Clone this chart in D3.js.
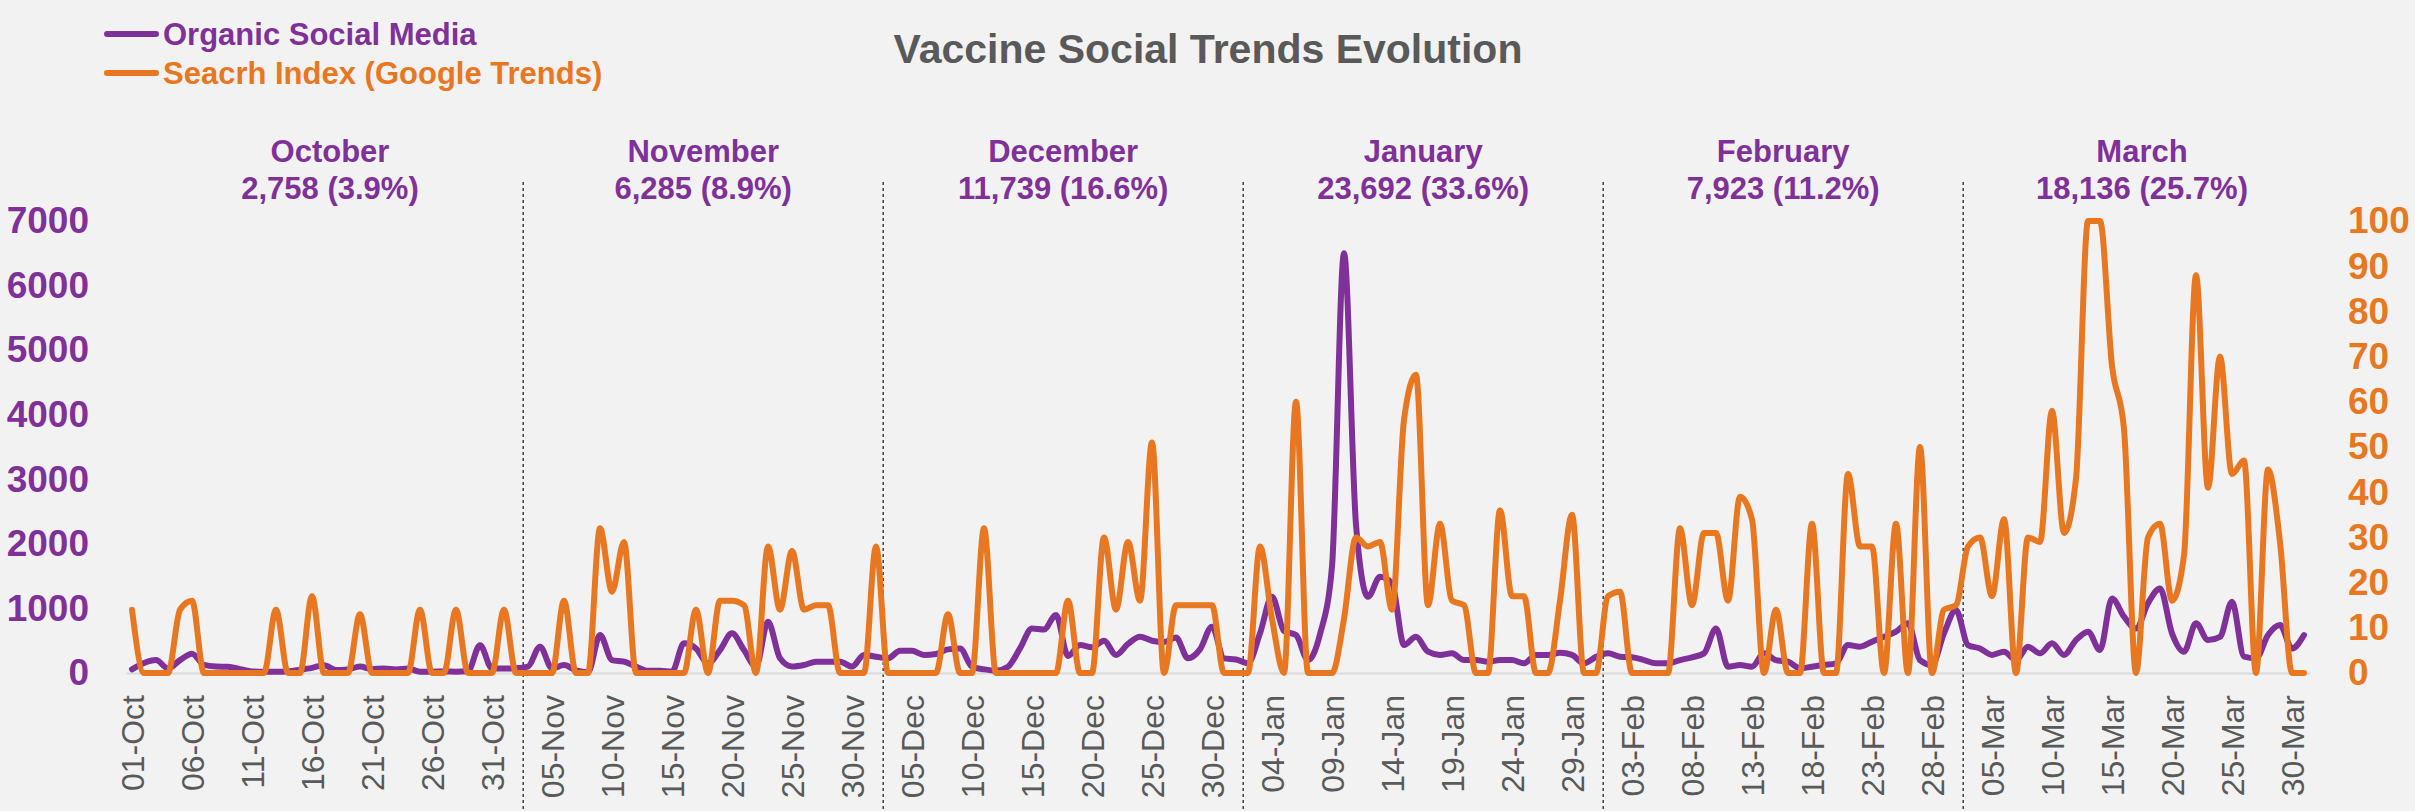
<!DOCTYPE html>
<meta charset="utf-8">
<style>
body { margin: 0; background: #f2f2f2; }
svg { display: block; background: #f2f2f2; font-family: "Liberation Sans", Arial, sans-serif; }
.title { font-size: 41px; font-weight: bold; fill: #595959; }
.legend text { font-size: 31px; font-weight: bold; }
.month text { font-size: 31px; font-weight: bold; fill: #7f3199; }
.yleft text { font-size: 37px; font-weight: bold; fill: #7f3199; }
.yright text { font-size: 37px; font-weight: bold; fill: #e87722; }
.xaxis text { font-size: 32px; fill: #595959; }
.divider { stroke: #404040; stroke-width: 1.5; stroke-dasharray: 3,3; }
</style>
<svg width="2415" height="811"></svg>
<script src="https://d3js.org/d3.v7.min.js"></script>
<script>

// daily values, 01-Oct to 31-Mar
var socialMedia = [
  // Oct
  57,155,200,70,200,300,125,100,95,60, 25,20,20,25,50,80,120,45,55,100, 60,70,55,70,20,20,25,20,30,430, 70,
  // Nov
  70,75,100,408,72,124,40,10,588,200, 175,100,36,36,20,460,380,150,355,614, 355,100,795,227,100,124,175,175,175,100,
  // Dec
  280,253,227,345,345,280,295,366,380,98, 57,36,98,380,690,675,900,263,433,397, 500,280,450,562,500,480,550,227,366,717, 227,
  // Jan
  210,150,614,1180,650,588,200,600,1650,6500, 2300,1180,1490,1390,433,560,330,280,305,200, 200,175,200,200,150,280,280,315,280,150, 250,
  // Feb
  304,253,243,200,150,150,200,243,304,690, 98,124,98,304,200,175,72,98,124,150, 433,408,485,562,640,770,200,124,
  // Mar
  614,975,433,380,280,330,200,408,305,460, 280,510,640,355,1155,872,690,1080,1310,614, 330,770,510,560,1105,253,227,588,743,380, 588
];

var searchIndex = [
  // Oct
  14,0,0,0,14,16,0,0,0,0, 0,0,14,0,0,17,0,0,0,13, 0,0,0,0,14,0,0,14,0,0, 0,
  // Nov
  14,0,0,0,0,16,0,0,32,18, 29,0,0,0,0,0,14,0,16,16, 15,0,28,14,27,14,15,15,0,0,
  // Dec
  0,28,0,0,0,0,0,13,0,0, 32,0,0,0,0,0,0,16,0,0, 30,14,29,16,51,0,15,15,15,15, 0,
  // Jan
  0,0,28,12,0,60,0,0,0,12, 30,28,29,14,56,66,15,33,16,15, 0,0,36,17,17,0,0,16,35,0, 0,
  // Feb
  17,18,0,0,0,0,32,15,31,31, 16,39,34,0,14,0,0,33,0,0, 44,28,28,0,33,0,50,0,
  // Mar
  14,15,28,30,17,34,0,30,29,58, 31,43,100,100,68,54,0,30,33,16, 26,88,41,70,44,47,0,45,29,0, 0
];

var monthNames = ["October", "November", "December", "January", "February", "March"];
var monthTotals = [2758, 6285, 11739, 23692, 7923, 18136];
var monthShares = [3.9, 8.9, 16.6, 33.6, 11.2, 25.7];
// divider positions (in day index units, as drawn on the original)
var dividerDays = [32.6, 62.6, 92.6, 122.6, 152.6];

var leftTicks = [0, 1000, 2000, 3000, 4000, 5000, 6000, 7000];
var rightTicks = [0, 10, 20, 30, 40, 50, 60, 70, 80, 90, 100];

var startDate = new Date(2020, 9, 1);
function dayDate(i) { return d3.timeDay.offset(startDate, i); }
var fmtDay = d3.timeFormat("%d-%b");

var svg = d3.select("svg");
var purple = "#7f3199", orange = "#e87722";

var nDays = socialMedia.length;
var x = d3.scaleLinear().domain([-0.5, nDays - 0.5]).range([126, 2310]);
var yLeft = d3.scaleLinear().domain([0, 7000]).range([673, 221]);
var yRight = d3.scaleLinear().domain([0, 100]).range([673, 221]);

// title
svg.append("text").attr("class", "title")
  .attr("x", 1208).attr("y", 63).attr("text-anchor", "middle")
  .text("Vaccine Social Trends Evolution");

// legend
var legendItems = [
  {name: "Organic Social Media", color: purple, y: 34},
  {name: "Seacrh Index (Google Trends)", color: orange, y: 73}
];
var legend = svg.append("g").attr("class", "legend");
legendItems.forEach(function(d) {
  legend.append("line")
    .attr("x1", 107).attr("x2", 156).attr("y1", d.y).attr("y2", d.y)
    .attr("stroke", d.color).attr("stroke-width", 6).attr("stroke-linecap", "round");
  legend.append("text")
    .attr("x", 163).attr("y", d.y + 11)
    .attr("fill", d.color).text(d.name);
});

// month dividers
svg.selectAll("line.divider")
  .data(dividerDays).enter().append("line")
  .attr("class", "divider")
  .attr("x1", function(d) { return x(d); }).attr("x2", function(d) { return x(d); })
  .attr("y1", 182).attr("y2", 811);

// month labels
var bounds = [0.4].concat(dividerDays, [nDays + 0.4]);
var fmtNum = d3.format(",");
var month = svg.append("g").attr("class", "month");
monthNames.forEach(function(name, i) {
  var cx = x((bounds[i] + bounds[i + 1]) / 2);
  month.append("text").attr("x", cx).attr("y", 162).attr("text-anchor", "middle").text(name);
  month.append("text").attr("x", cx).attr("y", 199).attr("text-anchor", "middle")
    .text(fmtNum(monthTotals[i]) + " (" + monthShares[i].toFixed(1) + "%)");
});

// axes
var xAxis = d3.axisBottom(x)
  .tickValues(d3.range(0, nDays, 5))
  .tickSize(0)
  .tickFormat(function(d) { return fmtDay(dayDate(d)); });

var gx = svg.append("g").attr("class", "xaxis")
  .attr("transform", "translate(0,673)")
  .call(xAxis);
gx.select(".domain").attr("stroke", "#d9d9d9").attr("stroke-width", 2);
gx.selectAll("text")
  .attr("transform", "rotate(-90)")
  .attr("x", -22).attr("y", 0).attr("dy", "0.35em")
  .attr("text-anchor", "end");

var gl = svg.append("g").attr("class", "yleft")
  .attr("transform", "translate(126,0)")
  .call(d3.axisLeft(yLeft).tickValues(leftTicks).tickSize(0).tickPadding(37).tickFormat(d3.format("d")));
gl.select(".domain").remove();

var gr = svg.append("g").attr("class", "yright")
  .attr("transform", "translate(2310,0)")
  .call(d3.axisRight(yRight).tickValues(rightTicks).tickSize(0).tickPadding(38).tickFormat(d3.format("d")));
gr.select(".domain").remove();

// lines
var lineLeft = d3.line()
  .x(function(d, i) { return x(i); })
  .y(function(d) { return yLeft(d); })
  .curve(d3.curveMonotoneX);

var lineRight = d3.line()
  .x(function(d, i) { return x(i); })
  .y(function(d) { return yRight(d); })
  .curve(d3.curveMonotoneX);

svg.append("path").datum(socialMedia)
  .attr("d", lineLeft)
  .attr("fill", "none").attr("stroke", purple).attr("stroke-width", 6)
  .attr("stroke-linejoin", "round").attr("stroke-linecap", "round");

svg.append("path").datum(searchIndex)
  .attr("d", lineRight)
  .attr("fill", "none").attr("stroke", orange).attr("stroke-width", 6)
  .attr("stroke-linejoin", "round").attr("stroke-linecap", "round");

</script>
